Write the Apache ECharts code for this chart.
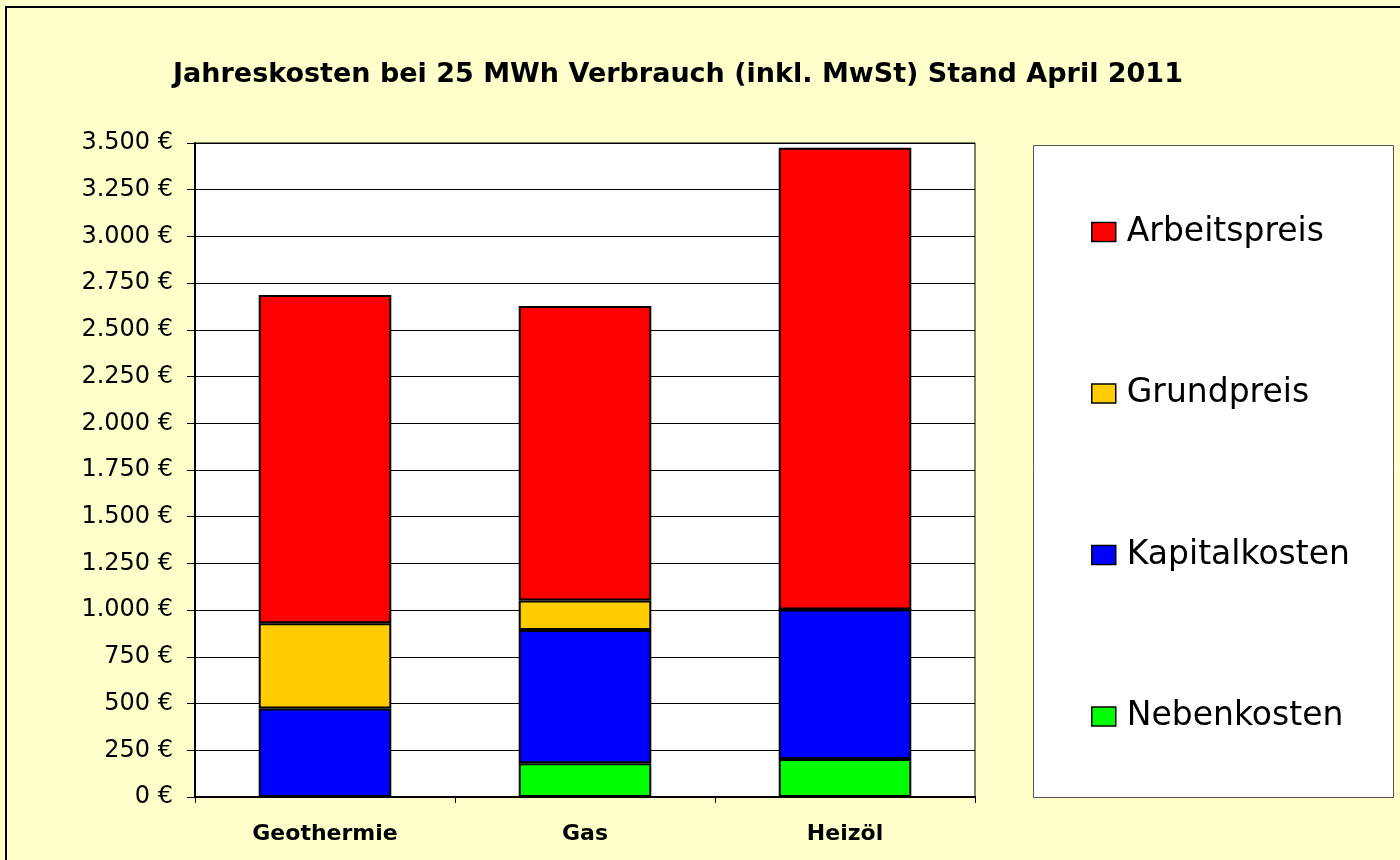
<!DOCTYPE html>
<html>
<head>
<meta charset="utf-8">
<script src="https://cdn.jsdelivr.net/npm/echarts@6/dist/echarts.min.js"></script>
<style>
  html, body { margin: 0; padding: 0; background: #ffffcc; }
  #main { width: 1400px; height: 860px; }
</style>
</head>
<body>
<div id="main"></div>
<script>
// Daten
var categories = ['Geothermie', 'Gas', 'Heizöl'];
var nebenkosten = [0, 180, 203];
var kapitalkosten = [473, 714, 800];
var grundpreis = [457, 157, 0];
var arbeitspreis = [1757, 1577, 2471];
var legendOrder = ['Arbeitspreis', 'Grundpreis', 'Kapitalkosten', 'Nebenkosten'];

function euro(v) {
    return String(v).replace(/\B(?=(\d{3})+(?!\d))/g, '.') + ' €';
}

var myChart = echarts.init(document.getElementById('main'));

function barSeries(name, data, color) {
    return {
        name: name,
        type: 'bar',
        stack: 'kosten',
        data: data,
        barWidth: '51%',
        itemStyle: { color: color, borderColor: '#000', borderWidth: 2 }
    };
}

var option = {
    backgroundColor: '#ffffcc',
    animation: false,
    textStyle: { fontFamily: 'DejaVu Sans, Arial, sans-serif' },
    title: {
        text: 'Jahreskosten bei 25 MWh Verbrauch (inkl. MwSt) Stand April 2011',
        left: 673,
        top: 56,
        textAlign: 'center',
        textStyle: { fontSize: 27, fontWeight: 'bold', color: '#000', fontFamily: 'DejaVu Sans' }
    },
    graphic: [
        {
            type: 'polyline',
            shape: { points: [[6, 860], [6, 7], [1400, 7]] },
            style: { stroke: '#000', lineWidth: 2, fill: null }
        },
        {
            type: 'rect',
            shape: { x: 1033.5, y: 145.5, width: 360, height: 652 },
            style: { fill: '#fff', stroke: '#555', lineWidth: 1 },
            z: -1
        }
    ],
    legend: {
        data: legendOrder,
        orient: 'vertical',
        left: 1086,
        top: 209,
        icon: 'rect',
        itemWidth: 24,
        itemHeight: 19,
        itemGap: 125.5,
        itemStyle: { borderColor: '#000', borderWidth: 1.5 },
        textStyle: { fontSize: 33, color: '#000', lineHeight: 36, padding: [0, 0, 0, 6], fontFamily: 'DejaVu Sans' }
    },
    grid: {
        left: 195,
        right: 425,
        top: 143,
        bottom: 63,
        show: true,
        backgroundColor: '#fff',
        borderColor: '#000',
        borderWidth: 1
    },
    xAxis: {
        type: 'category',
        data: categories,
        axisLine: { lineStyle: { color: '#000', width: 2 } },
        axisTick: { show: true, length: 6, lineStyle: { color: '#000' } },
        axisLabel: { fontSize: 22, fontWeight: 'bold', color: '#000', margin: 26, fontFamily: 'DejaVu Sans' }
    },
    yAxis: {
        type: 'value',
        min: 0,
        max: 3500,
        interval: 250,
        axisLine: { show: true, lineStyle: { color: '#000', width: 2 } },
        axisTick: { show: true, length: 8, lineStyle: { color: '#000' } },
        axisLabel: { fontSize: 24, color: '#000', margin: 22, formatter: euro, fontFamily: 'DejaVu Sans' },
        splitLine: { lineStyle: { color: '#000', width: 1 } }
    },
    series: [
        barSeries('Nebenkosten', nebenkosten, '#00ff00'),
        barSeries('Kapitalkosten', kapitalkosten, '#0000ff'),
        barSeries('Grundpreis', grundpreis, '#ffcc00'),
        barSeries('Arbeitspreis', arbeitspreis, '#ff0000')
    ]
};
myChart.setOption(option, true);
</script>
</body>
</html>
